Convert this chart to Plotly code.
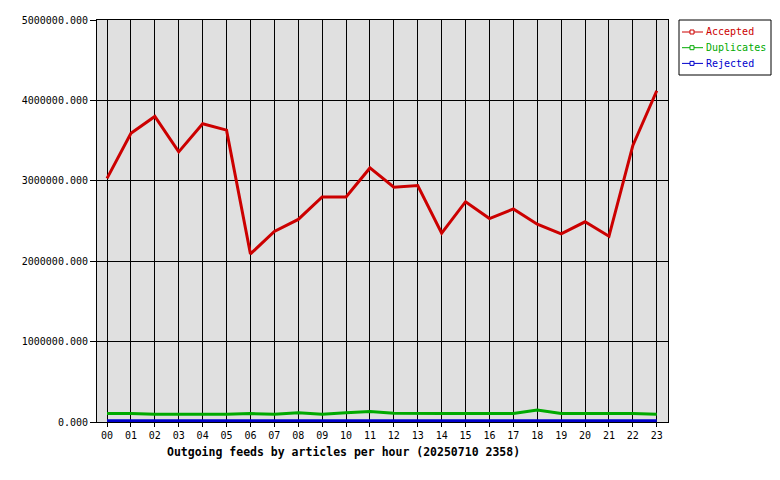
import plotly.graph_objects as go

hours = list(range(24))
hour_labels = [f"{h:02d}" for h in hours]

accepted = [3030000, 3590000, 3800000, 3360000, 3710000, 3630000, 2090000, 2370000,
            2520000, 2800000, 2800000, 3160000, 2920000, 2940000, 2350000, 2740000,
            2530000, 2650000, 2460000, 2340000, 2490000, 2310000, 3440000, 4120000]
duplicates = [105000, 105000, 95000, 95000, 95000, 95000, 105000, 95000,
              115000, 95000, 115000, 130000, 110000, 105000, 105000, 105000,
              105000, 105000, 150000, 105000, 105000, 105000, 105000, 95000]
rejected = [15000] * 24

series_names = ["Accepted", "Duplicates", "Rejected"]
series_values = [accepted, duplicates, rejected]
series_colors = ["#cc0000", "#00aa00", "#0000cc"]

FONT = "DejaVu Sans Mono"

# plot-area geometry in page pixels (page body has an 8px margin)
PL, PR, PT, PB = 97, 668, 20, 422
def px(x):
    return (x - PL) / (PR - PL)
def py(y):
    return (PB - y) / (PB - PT)

fig = go.Figure()
for name, vals, col in zip(series_names, series_values, series_colors):
    fig.add_trace(go.Scatter(x=hours, y=vals, mode="lines", name=name, showlegend=False,
                             line=dict(color=col, width=3), hoverinfo="skip"))

# custom legend box (matches the reference's compact legend)
shapes = [dict(type="rect", xref="paper", yref="paper",
               x0=px(679), x1=px(771), y0=py(20), y1=py(75),
               line=dict(color="black", width=1), fillcolor="white")]
annotations = []
for i, (name, col) in enumerate(zip(series_names, series_colors)):
    yc = 32 + 15.7 * i
    shapes.append(dict(type="line", xref="paper", yref="paper",
                       x0=px(682), x1=px(703), y0=py(yc), y1=py(yc),
                       line=dict(color=col, width=1)))
    shapes.append(dict(type="rect", xref="paper", yref="paper",
                       x0=px(690), x1=px(694), y0=py(yc - 2), y1=py(yc + 2),
                       line=dict(color=col, width=1), fillcolor="white"))
    annotations.append(dict(text=name, xref="paper", yref="paper",
                            x=px(704), y=py(yc), xanchor="left", yanchor="middle",
                            showarrow=False, font=dict(family=FONT, size=10, color=col)))

annotations.append(dict(text="<b>Outgoing feeds by articles per hour (20250710 2358)</b>",
                        xref="paper", yref="paper", x=px(165), y=py(452),
                        xanchor="left", yanchor="middle", showarrow=False,
                        font=dict(family=FONT, size=11.5, color="black")))

fig.update_layout(
    width=780, height=480,
    margin=dict(l=PL - 8, r=788 - PR, t=PT - 8, b=488 - PB, autoexpand=False),
    paper_bgcolor="white", plot_bgcolor="#e0e0e0",
    font=dict(family=FONT, size=10, color="black"),
    showlegend=False,
    shapes=shapes,
    annotations=annotations,
)
fig.update_xaxes(range=[-0.42, 23.47], tickvals=hours, ticktext=hour_labels,
                 showgrid=True, gridcolor="black", gridwidth=1,
                 showline=True, linecolor="black", linewidth=1, mirror=True,
                 ticks="outside", ticklen=4, tickcolor="black", zeroline=False,
                 tickfont=dict(family=FONT, size=10))
fig.update_yaxes(range=[0, 5000000], tickvals=[0, 1000000, 2000000, 3000000, 4000000, 5000000],
                 tickformat=".3f",
                 showgrid=True, gridcolor="black", gridwidth=1,
                 showline=True, linecolor="black", linewidth=1, mirror=True,
                 ticks="outside", ticklen=6, tickcolor="black", zeroline=False,
                 tickfont=dict(family=FONT, size=10))
fig.write_html("out.html")
